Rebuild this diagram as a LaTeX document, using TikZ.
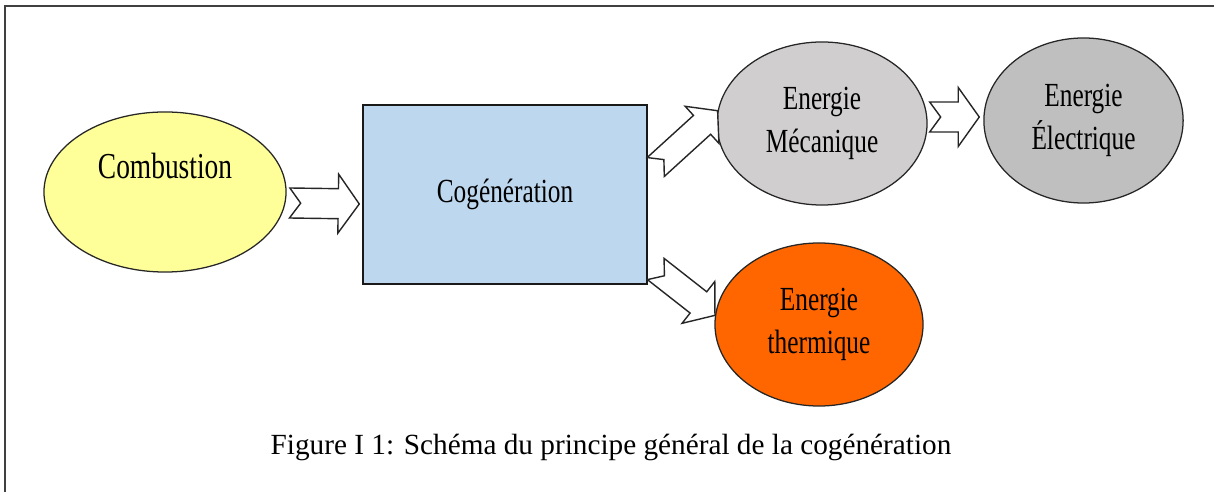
\documentclass[tikz,border=0pt]{standalone}
\usepackage{fontspec}
\setmainfont{Liberation Serif}
\newfontfamily\narrowfont[FakeStretch=0.75]{Liberation Serif}
\usepackage{tikz}
\usetikzlibrary{calc,shapes.geometric}

\definecolor{fuelyellow}{HTML}{FFFF99}
\definecolor{cogblue}{HTML}{BDD7EE}
\definecolor{mecagray}{HTML}{D0CECE}
\definecolor{elecgray}{HTML}{BFBFBF}
\definecolor{thermorange}{HTML}{FF6600}

% hollow notched arrow: [width scale]{tail}{tip}
\newcommand\fatarrow[3][1]{%
	\draw[fat] let \p1=(#2), \p2=(#3),
		\n1={atan2(\y2-\y1,\x2-\x1)},
		\n2={veclen(\x2-\x1,\y2-\y1)} in
		[shift={(\p1)}, rotate=\n1]
		(0pt,{10.67pt*#1}) -- ({\n2*1pt-14.94pt},{10.67pt*#1})
		-- ({\n2*1pt-14.94pt},{20.98pt*#1}) -- ({\n2*1pt},0pt)
		-- ({\n2*1pt-14.94pt},{-20.98pt*#1}) -- ({\n2*1pt-14.94pt},{-10.67pt*#1})
		-- (0pt,{-10.67pt*#1}) -- (7.82pt,0pt) -- cycle;}

\begin{document}
\begin{tikzpicture}[x=0.025cm, y=0.025cm, % one unit = one pixel
	every node/.style={font=\narrowfont\fontsize{24}{30}\selectfont, align=center},
	oval/.style={ellipse, draw=black!85, line width=0.9pt, inner sep=0pt},
	box/.style={rectangle, draw=black!90, line width=1pt, inner sep=0pt},
	fat/.style={draw=black!85, fill=white, line width=1pt, line join=miter},
	frame/.style={draw=black!75, line width=0.9pt}]
	\useasboundingbox (0,0) rectangle (1214,492);
	\draw[frame] (5,0) -- (5,486) -- (1214,486);
	\node[oval, fill=fuelyellow, minimum width=6.05cm, minimum height=4cm,
		label={[yshift=0.65cm, font=\narrowfont\fontsize{26}{30}\selectfont]center:Combustion}] (comb) at (165,300) {};
	\node[box, fill=cogblue, minimum width=7.1cm, minimum height=4.475cm] (cog) at (505,297.5) {Cogénération};
	\node[oval, fill=mecagray, minimum width=5.25cm, minimum height=4.075cm] (meca) at (822,368.5) {Energie\\Mécanique};
	\node[oval, fill=elecgray, minimum width=4.98cm, minimum height=4.125cm] (elec) at (1083.5,371.5) {Energie\\Électrique};
	\node[oval, fill=thermorange, minimum width=5.2cm, minimum height=4.075cm] (therm) at (819,167.5) {Energie\\thermique};
	\fatarrow{$(comb.east)+(3,-11)$}{$(cog.west)+(-3,-9.5)$}
	\fatarrow[0.85]{$(cog.east)+(8,27.5)$}{meca.173}
	\fatarrow[0.9]{$(cog.east)+(8,-74.5)$}{therm.175}
	\fatarrow{$(meca.east)+(2,6.5)$}{$(elec.west)+(-4,3.5)$}
	\node[font=\fontsize{20.8}{24}\selectfont] (cap) at (611,45) {Figure I 1: Schéma du principe général de la cogénération};
\end{tikzpicture}
\end{document}
